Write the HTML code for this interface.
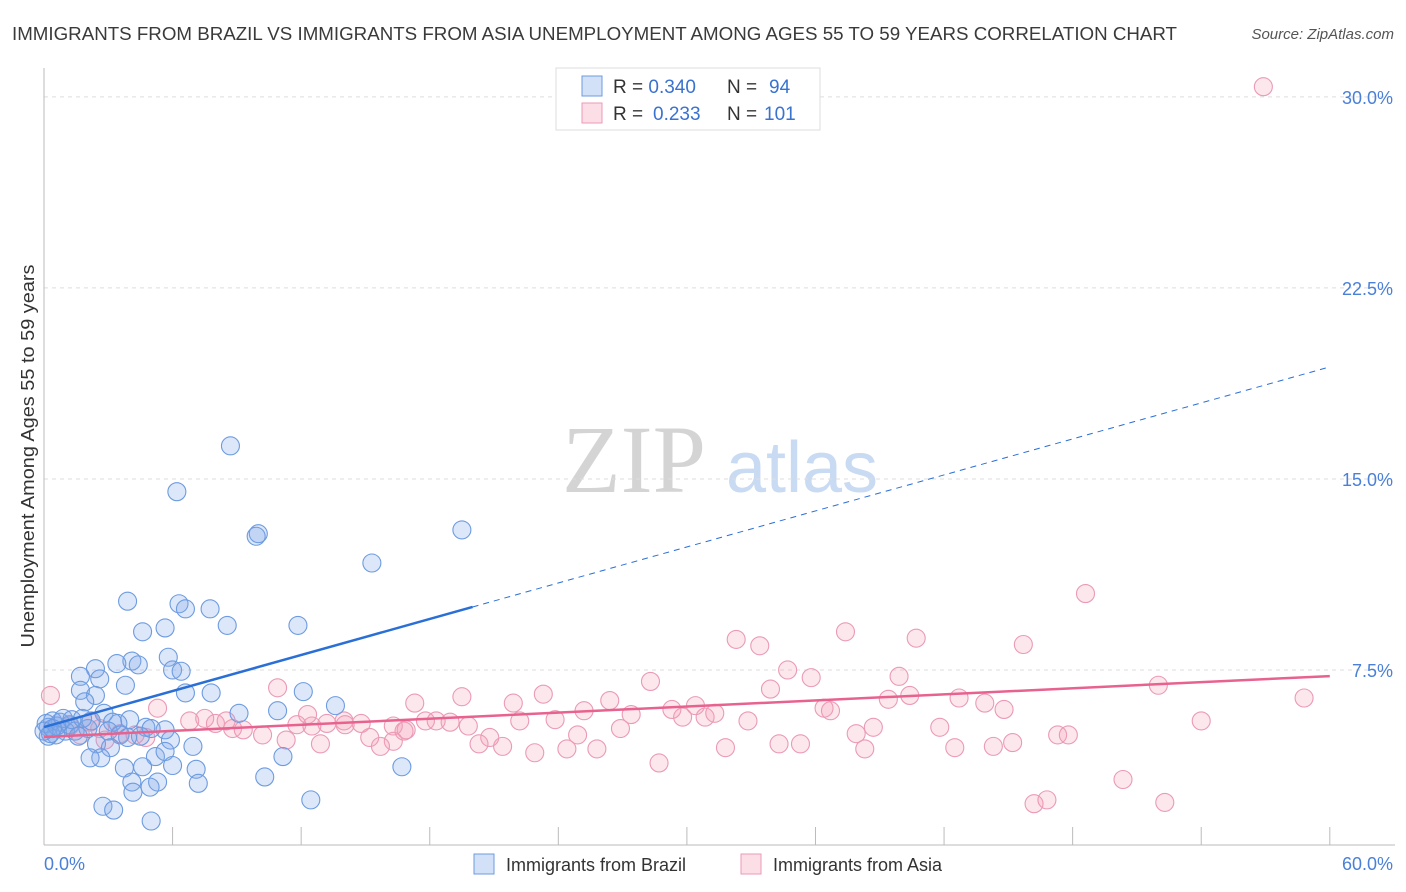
<!DOCTYPE html>
<html><head><meta charset="utf-8"><style>
body{margin:0;background:#fff;font-family:"Liberation Sans",sans-serif;}
#wrap{position:relative;width:1406px;height:892px;overflow:hidden;}
</style></head><body>
<div id="wrap">
<svg id="svg" width="1406" height="892" xmlns="http://www.w3.org/2000/svg">
<text x="12" y="40" font-size="18.5" textLength="1165" lengthAdjust="spacingAndGlyphs" fill="#3a3a3a">IMMIGRANTS FROM BRAZIL VS IMMIGRANTS FROM ASIA UNEMPLOYMENT AMONG AGES 55 TO 59 YEARS CORRELATION CHART</text>
<text x="1394" y="39" font-size="15" fill="#555" font-style="italic" text-anchor="end">Source: ZipAtlas.com</text>
<text x="634" y="492" font-size="96" fill="#d4d4d4" font-family="Liberation Serif,serif" text-anchor="middle">ZIP</text>
<text x="802" y="492" font-size="72" fill="#c9daf3" text-anchor="middle">atlas</text>
<text transform="translate(34,456) rotate(-90)" font-size="18.5" textLength="383" lengthAdjust="spacingAndGlyphs" fill="#333" text-anchor="middle">Unemployment Among Ages 55 to 59 years</text>
<g id="grid"></g><g id="axes"></g><g id="pts"></g><g id="lines"></g>
<g>
<rect x="556" y="68" width="264" height="62" fill="#fff" stroke="#ddd"/>
<rect x="582" y="76" width="20" height="20" fill="rgba(130,170,235,0.35)" stroke="#6d9be0"/>
<rect x="582" y="103" width="20" height="20" fill="rgba(245,160,185,0.35)" stroke="#eb9ab5"/>
<text x="613" y="93" font-size="19" fill="#333">R = <tspan fill="#3a72d0">0.340</tspan><tspan x="727">N = </tspan><tspan x="769" fill="#3a72d0">94</tspan></text>
<text x="613" y="120" font-size="19" fill="#333">R = <tspan x="653" fill="#3a72d0">0.233</tspan><tspan x="727">N = </tspan><tspan x="764" fill="#3a72d0">101</tspan></text>
</g>
<rect x="474" y="854" width="20" height="20" fill="rgba(130,170,235,0.35)" stroke="#6d9be0"/>
<text x="506" y="871" font-size="18" fill="#333">Immigrants from Brazil</text>
<rect x="741" y="854" width="20" height="20" fill="rgba(245,160,185,0.35)" stroke="#eb9ab5"/>
<text x="773" y="871" font-size="18" fill="#333">Immigrants from Asia</text>
</svg>
</div>
<script>
const yTicks=[7.5,15,22.5,30];
const yTickLabels=["7.5%","15.0%","22.5%","30.0%"];
const xTicks=[6,12,18,24,30,36,42,48,54,60];
const brazilX=[8.7,6.2,10.0,9.9,19.5,15.3,3.9,6.3,6.6,7.75,5.65,4.6,8.55,11.85,5.8,2.4,4.1,4.4,3.4,1.7,2.6,6.0,6.4,3.8,1.7,2.4,1.9,6.6,7.8,12.1,13.6,10.9,9.1,2.8,4.0,3.45,0.4,0.75,0.2,1.2,1.0,0.55,0.2,1.45,2.05,5.65,4.75,3.2,3.0,3.55,4.5,5.0,6.95,5.9,2.45,3.1,3.9,2.65,2.15,5.2,5.65,7.1,3.75,4.6,6.0,10.3,11.15,16.7,4.1,5.3,4.15,4.95,7.2,2.75,3.25,12.45,5.0,0.1,0.3,0.6,0.9,1.3,0.0,1.6,0.4,2.2,1.8];
const brazilY=[16.3,14.5,12.85,12.75,13.0,11.7,10.2,10.1,9.9,9.9,9.15,9.0,9.25,9.25,8.0,7.55,7.85,7.7,7.75,7.25,7.15,7.5,7.45,6.9,6.7,6.5,6.25,6.6,6.6,6.65,6.1,5.9,5.8,5.8,5.55,5.4,5.5,5.45,5.25,5.35,5.1,4.95,4.9,5.1,5.2,5.15,5.25,5.45,5.1,4.95,4.9,5.2,4.5,4.75,4.6,4.45,4.85,4.05,4.05,4.1,4.3,3.6,3.65,3.7,3.75,3.3,4.1,3.7,3.1,3.1,2.7,2.9,3.05,2.15,2.0,2.4,1.57,5.4,5.0,5.3,5.6,5.55,5.1,4.9,5.2,5.5,5.6];
const asiaX=[0.3,56.9,48.6,37.4,32.3,33.4,40.7,45.7,10.9,5.3,34.7,35.8,39.9,28.3,33.9,19.5,23.3,17.3,26.4,29.3,30.4,39.4,40.4,42.7,43.9,44.8,52.0,58.8,21.9,23.85,25.2,27.4,29.8,30.85,31.3,36.4,36.7,12.3,14.0,14.8,13.2,16.3,16.9,17.8,18.3,18.95,19.8,22.2,6.8,7.5,8.0,8.8,9.3,10.2,11.8,12.5,14.05,8.5,15.2,16.3,16.8,20.8,24.9,26.9,32.85,41.8,38.7,37.9,11.3,12.9,15.7,20.3,21.4,22.9,24.4,25.8,31.8,34.3,35.3,38.3,42.5,44.3,45.2,47.3,47.8,54.0,28.7,50.35,46.2,46.8,52.3,1.2,2.15,2.6,3.55,4.25,4.75,2.85,1.7];
const asiaY=[6.5,30.4,10.5,9.0,8.7,8.45,8.75,8.5,6.8,6.0,7.5,7.2,7.25,7.05,6.75,6.45,6.55,6.2,6.3,5.95,6.1,6.35,6.5,6.4,6.2,5.95,6.9,6.4,6.2,5.55,5.9,5.75,5.65,5.65,5.8,6.0,5.9,5.75,5.5,5.4,5.4,5.3,5.15,5.5,5.5,5.45,5.3,5.5,5.5,5.6,5.4,5.2,5.15,4.95,5.35,5.3,5.35,5.5,4.85,4.7,5.1,4.85,4.95,5.2,5.5,5.25,5.25,5.0,4.75,4.6,4.5,4.6,4.5,4.25,4.4,4.4,4.45,4.6,4.6,4.4,4.45,4.5,4.65,4.95,4.95,5.5,3.85,3.2,2.25,2.4,2.3,5.3,5.45,5.2,5.0,4.95,4.85,4.75,4.95];
const brazilTrend=[5.26,19.4];
const asiaTrend=[4.87,7.26];
const NS="http://www.w3.org/2000/svg";
const X=v=>44+v*21.43, Y=v=>861-v*25.47;
function mk(tag,attrs,parent){const e=document.createElementNS(NS,tag);for(const k in attrs)e.setAttribute(k,attrs[k]);document.getElementById(parent).appendChild(e);return e;}
yTicks.forEach((t,i)=>{
 const l=mk('line',{x1:44,x2:1395,y1:Y(t),y2:Y(t),stroke:'#ddd','stroke-dasharray':'4,4'},'grid');
 
 
 const tx=mk('text',{x:1393,y:Y(t)+7,'font-size':18,fill:'#4a80d8','text-anchor':'end'},'grid');
 tx.textContent=yTickLabels[i];
 
 
});
const ax=mk('line',{x1:44,x2:44,y1:68,y2:845,stroke:'#bbb'},'axes');


const bx=mk('line',{x1:44,x2:1395,y1:845,y2:845,stroke:'#bbb'},'axes');


xTicks.forEach(t=>{
 const l=mk('line',{x1:X(t),x2:X(t),y1:827,y2:845,stroke:'#bbb'},'axes');
 
 
});
const x0=mk('text',{x:44,y:870,'font-size':18,fill:'#4a80d8'},'axes');x0.textContent='0.0%';


const x1=mk('text',{x:1393,y:870,'font-size':18,fill:'#4a80d8','text-anchor':'end'},'axes');x1.textContent='60.0%';


asiaX.forEach((v,i)=>{
 const c=mk('circle',{cx:X(v),cy:Y(asiaY[i]),r:9,fill:'rgba(245,160,185,0.25)',stroke:'#eb9ab5','stroke-width':1.1},'pts');
 
 
});
brazilX.forEach((v,i)=>{
 const c=mk('circle',{cx:X(v),cy:Y(brazilY[i]),r:9,fill:'rgba(130,170,235,0.28)',stroke:'#6d9be0','stroke-width':1.1},'pts');
 
 
});
const bAt=x=>brazilTrend[0]+(brazilTrend[1]-brazilTrend[0])*x/60;
const b1=mk('line',{x1:X(0),y1:Y(bAt(0)),x2:X(20),y2:Y(bAt(20)),stroke:'#2a6fd6','stroke-width':2.5},'lines');


const b2=mk('line',{x1:X(20),y1:Y(bAt(20)),x2:X(60),y2:Y(bAt(60)),stroke:'#2a6fd6','stroke-width':1,'stroke-dasharray':'6,5'},'lines');


const a1=mk('line',{x1:X(0),y1:Y(asiaTrend[0]),x2:X(60),y2:Y(asiaTrend[1]),stroke:'#e8628f','stroke-width':2.5},'lines');


</script>
</body></html>
